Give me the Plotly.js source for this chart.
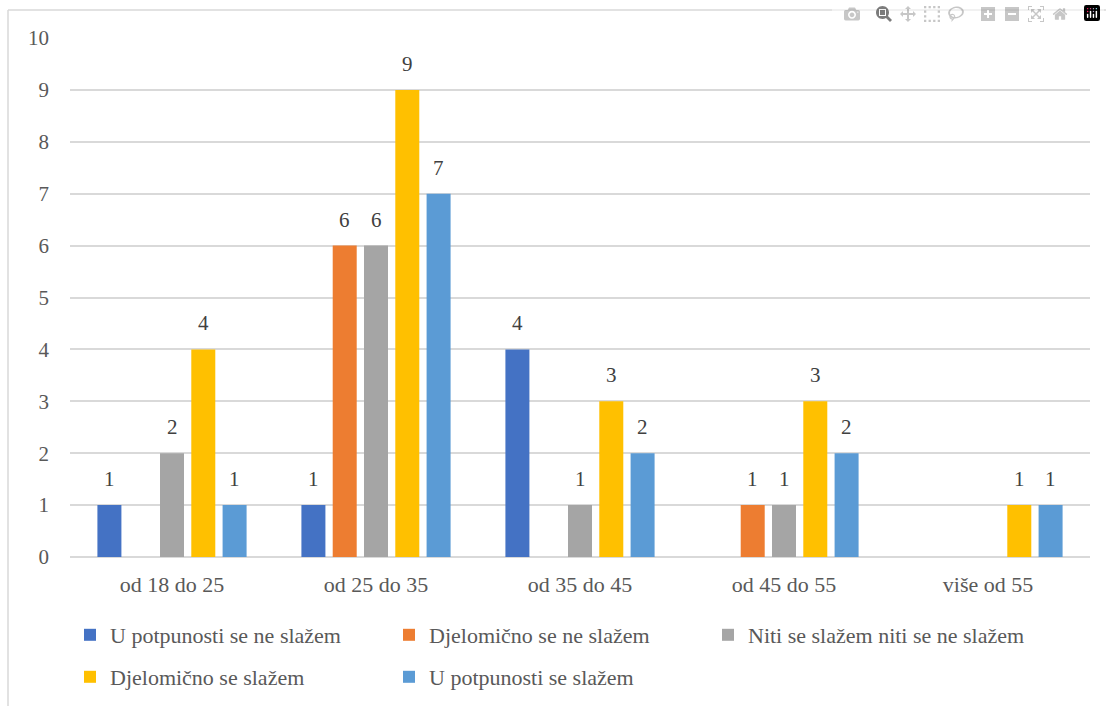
<!DOCTYPE html>
<html>
<head>
<meta charset="utf-8">
<script src="https://cdn.plot.ly/plotly-3.0.1.min.js"></script>
<style>
html,body{margin:0;padding:0;background:#fff;}
#chart svg text, #chart svg tspan { font-family: 'Liberation Serif', 'Times New Roman', serif !important; }
</style>
</head>
<body>
<div id="chart"></div>
<script>
const categories = ['od 18 do 25', 'od 25 do 35', 'od 35 do 45', 'od 45 do 55', 'više od 55'];
const seriesNames = ['U potpunosti se ne slažem', 'Djelomično se ne slažem', 'Niti se slažem niti se ne slažem', 'Djelomično se slažem', 'U potpunosti se slažem'];
const uPotpunostiNe = [1, 1, 4, 0, 0];
const djelomicnoNe = [0, 6, 0, 1, 0];
const nitiNiti = [2, 6, 1, 1, 0];
const djelomicnoDa = [4, 9, 3, 3, 1];
const uPotpunostiDa = [1, 7, 2, 2, 1];
const yTicks = [0, 1, 2, 3, 4, 5, 6, 7, 8, 9, 10];

const seriesValues = [uPotpunostiNe, djelomicnoNe, nitiNiti, djelomicnoDa, uPotpunostiDa];
const colors = ['#4472C4', '#ED7D31', '#A5A5A5', '#FFC000', '#5B9BD5'];
const legendRow = ['legend', 'legend', 'legend', 'legend2', 'legend2'];

const W = 1106, H = 706;
const margin = {l: 70, r: 16, t: 38, b: 149};
const bargap = 0.233;
const plotW = W - margin.l - margin.r;
const plotH = H - margin.t - margin.b;
const slot = (plotW / categories.length) * (1 - bargap) / seriesValues.length;

const fontFam = 'Liberation Serif';

const traces = seriesValues.map((vals, i) => ({
  type: 'bar',
  name: seriesNames[i],
  x: categories,
  y: vals,
  legend: legendRow[i],
  marker: {color: colors[i]},
  hoverinfo: 'x+y+name'
}));

const annotations = [];
seriesValues.forEach((vals, i) => {
  vals.forEach((v, j) => {
    if (v > 0) {
      annotations.push({
        x: categories[j], y: v, xref: 'x', yref: 'y',
        text: String(v), showarrow: false,
        xshift: (i - (seriesValues.length - 1) / 2) * slot,
        yanchor: 'bottom', yshift: 12,
        font: {size: 21, color: '#404040'}
      });
    }
  });
});

const px2x = px => (px - margin.l) / plotW;
const px2y = py => (H - margin.b - py) / plotH;

const legendBase = {
  orientation: 'h', x: 0.0, xanchor: 'left',
  yref: 'container', yanchor: 'top',
  entrywidth: 274, entrywidthmode: 'pixels',
  font: {size: 22, color: '#595959'},
  traceorder: 'normal', itemwidth: 30, itemclick: false
};

const layout = {
  width: W, height: H,
  margin: margin,
  paper_bgcolor: '#fff', plot_bgcolor: '#fff',
  barmode: 'group',
  bargap: bargap,
  bargroupgap: 0.233,
  showlegend: true,
  font: {family: fontFam, size: 21, color: '#595959'},
  xaxis: {
    type: 'category',
    showgrid: false, showline: false, zeroline: false,
    ticks: '', ticklabelstandoff: 12, automargin: false,
    tickfont: {size: 22, color: '#595959'}
  },
  yaxis: {
    range: [0, 10], tickvals: yTicks, ticktext: yTicks.map(String),
    showgrid: true, gridcolor: '#d9d9d9', gridwidth: 1.5,
    zeroline: true, zerolinecolor: '#d9d9d9', zerolinewidth: 1.5,
    showline: false, ticks: '', ticklabelstandoff: 20, automargin: false,
    tickfont: {size: 21, color: '#595959'}
  },
  legend: Object.assign({}, legendBase, {y: 1 - 614 / H}),
  legend2: Object.assign({}, legendBase, {y: 1 - 656 / H}),
  annotations: annotations,
  shapes: [
    {type: 'line', xref: 'paper', yref: 'paper', x0: px2x(8), x1: px2x(1106), y0: px2y(10), y1: px2y(10), line: {color: '#d9d9d9', width: 1.5}},
    {type: 'line', xref: 'paper', yref: 'paper', x0: px2x(8), x1: px2x(8), y0: px2y(10), y1: px2y(706), line: {color: '#d9d9d9', width: 1.5}}
  ]
};

Plotly.newPlot('chart', traces, layout);
</script>
</body>
</html>
